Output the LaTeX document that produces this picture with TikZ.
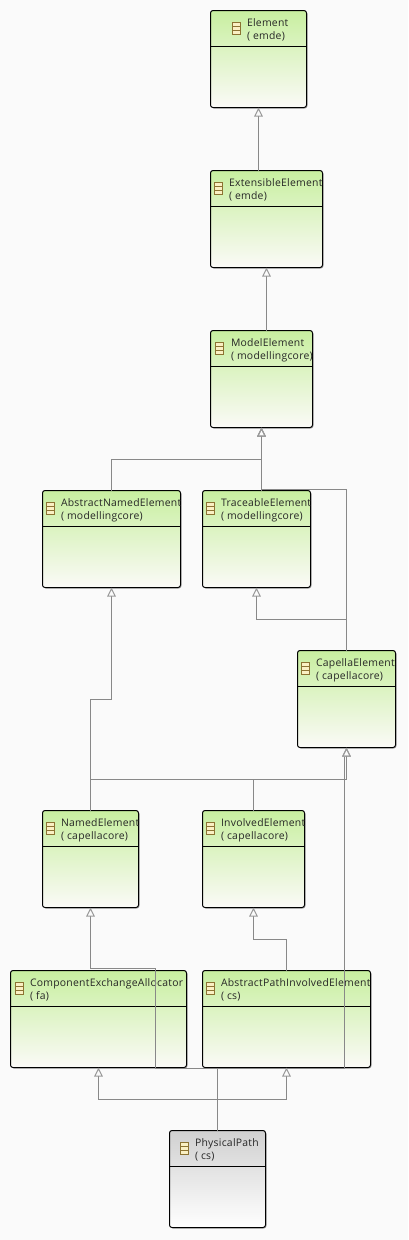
\documentclass[tikz,border=0pt]{standalone}
\usepackage{fontspec}
\setmainfont{Open Sans}[LetterSpace=2.5]
\usetikzlibrary{arrows.meta,shadows,calc}
\definecolor{bgc}{RGB}{250,250,250}
\definecolor{conncol}{RGB}{136,136,136}
\definecolor{greentop}{RGB}{200,239,160}
\definecolor{greenmid}{RGB}{232,248,210}
\definecolor{greenbot}{RGB}{251,250,247}
\definecolor{greytop}{RGB}{208,208,208}
\definecolor{greymid}{RGB}{232,232,232}
\definecolor{greybot}{RGB}{255,255,255}
\definecolor{iconedge}{RGB}{140,115,50}
\definecolor{iconfill}{RGB}{250,240,195}
\tikzset{
  x=1pt,y=-1pt,
  umlbox/.style={draw=black,line width=1pt,rounded corners=2.5pt,outer sep=0pt,inner sep=0pt,
    minimum height=97pt,drop shadow={shadow xshift=1pt,shadow yshift=-1pt,fill=black,opacity=.3}},
  greenbox/.style={umlbox,top color=greentop,middle color=greenmid,bottom color=greenbot},
  greybox/.style={umlbox,top color=greytop,middle color=greymid,bottom color=greybot},
  divider/.style={draw=black,line width=1pt},
  titletext/.style={anchor=base west,inner sep=0pt,outer sep=0pt,font=\fontsize{10.4}{12}\selectfont,text=black!85},
  iconbox/.style={draw=iconedge,fill=iconfill,line width=1pt,minimum width=8pt,minimum height=12pt,inner sep=0pt,outer sep=0pt},
  iconrow/.style={draw=iconedge,line width=.8pt},
  conn/.style={draw=conncol,line width=1pt},
  gen/.style={conn,-{Triangle[open,length=9pt,width=8.5pt,color=conncol!85]}},
}
% name, x0, y0, width, line 1, line 2, icon left x, text left x, style
\newcommand{\umlnode}[9]{%
  \node[#9,minimum width=#4pt] (#1) at ({#2+#4/2},{#3+48}) {};
  \draw[divider] (#1.west |- 0,{#3+35.5}) -- (#1.east |- 0,{#3+35.5});
  \node[iconbox] (#1-i) at ({#7+4.5},{#3+17.5}) {};
  \draw[iconrow] ($(#1-i.north west)+(0,4)$) -- ($(#1-i.north east)+(0,4)$);
  \draw[iconrow] ($(#1-i.north west)+(0,8)$) -- ($(#1-i.north east)+(0,8)$);
  \begin{scope}
    \clip (#2,#3) rectangle ({#2+#4},{#3+35});
    \node[titletext] (#1-a) at (#8,{#3+15}) {#5};
    \node[titletext] (#1-b) at (#8,{#3+28}) {#6};
  \end{scope}
}
\begin{document}
\begin{tikzpicture}
\useasboundingbox (0,0) rectangle (408,1240);
\fill[bgc] (0,0) rectangle (408,1240);
\umlnode{elem}{210.5}{11}{96}{Element}{( emde)}{232}{247}{greenbox}
\umlnode{ext}{210.5}{171}{112}{ExtensibleElement}{( emde)}{214}{229}{greenbox}
\umlnode{model}{210.5}{331}{102}{ModelElement}{( modellingcore)}{215}{231}{greenbox}
\umlnode{abs}{42.5}{491}{138}{AbstractNamedElement}{( modellingcore)}{46}{61}{greenbox}
\umlnode{trace}{202.5}{491}{108}{TraceableElement}{( modellingcore)}{206}{221}{greenbox}
\umlnode{cap}{297.5}{651}{98}{CapellaElement}{( capellacore)}{301}{316}{greenbox}
\umlnode{named}{42.5}{811}{96}{NamedElement}{( capellacore)}{46}{61}{greenbox}
\umlnode{inv}{202.5}{811}{102}{InvolvedElement}{( capellacore)}{206}{221}{greenbox}
\umlnode{cea}{10.5}{971}{176}{ComponentExchangeAllocator}{( fa)}{15}{30}{greenbox}
\umlnode{apie}{202.5}{971}{168}{AbstractPathInvolvedElement}{( cs)}{206}{221}{greenbox}
\umlnode{pp}{169.5}{1131}{96}{PhysicalPath}{( cs)}{180}{195}{greybox}
% routing points
\coordinate (absbend) at (261.5,459.5);
\coordinate (capbend) at (346.5,489.5);
\coordinate (captr) at (256.5,619.5);
\coordinate (nabend) at (111.5,699.5);
\coordinate (capjoin) at (346.5,779.5);
\coordinate (ppa) at (155.5,1068.5);
\coordinate (ppb) at (155.5,968.5);
\coordinate (ppc) at (344.5,1068.5);
\coordinate (ppf) at (344.5,757);
\coordinate (ppd) at (253.5,939.5);
\coordinate (ppe) at (98.5,1099.5);
% connectors
\draw[gen] (ext.north -| elem.south) -- (elem.south);
\draw[gen] (model.north -| ext.south) -- (ext.south);
\draw[gen] (abs.north) |- (absbend) -- (model.south);
\draw[gen] (trace.north -| model.south) -- (model.south);
\draw[gen] (cap.north) -- (capbend) -- (capbend -| model.south) -- (model.south);
\draw[gen] (cap.north |- captr) -- (captr) -- (trace.south);
\draw[gen] (named.north) |- (nabend) -- (abs.south);
\draw[gen] (named.north) |- (capjoin) -- (cap.south);
\draw[gen] (inv.north) |- (capjoin) -- (cap.south);
\draw[gen] (apie.north) |- (ppd) -- (inv.south);
\draw[gen] (pp.north) |- (ppa) -- (ppb) -| (named.south);
\draw[conn] (pp.north) |- (ppc) -- (ppf);
\draw[gen] (pp.north) |- (ppe) -- (cea.south);
\draw[gen] (pp.north) |- (ppe -| apie.south) -- (apie.south);
\end{tikzpicture}
\end{document}
